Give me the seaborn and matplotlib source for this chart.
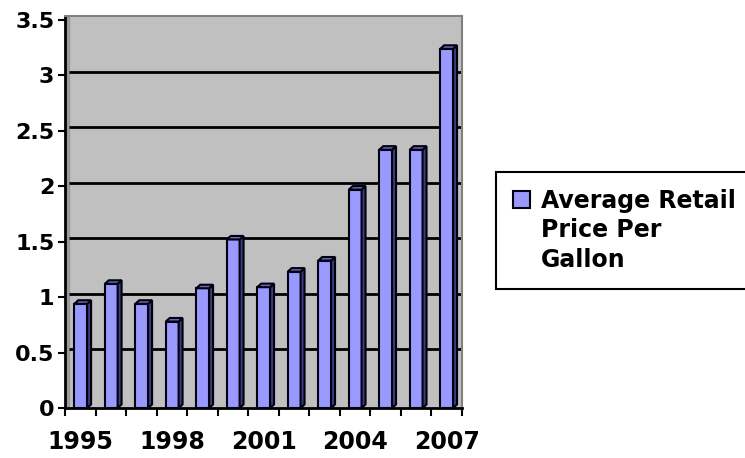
import matplotlib
matplotlib.use("Agg")
import numpy as np
import pandas as pd
import seaborn as sns
import matplotlib.pyplot as plt
from matplotlib.patches import Polygon, Patch

# data
years = ["1995", "1996", "1997", "1998", "1999", "2000", "2001",
         "2002", "2003", "2004", "2005", "2006", "2007"]
prices = [0.94, 1.12, 0.94, 0.78, 1.08, 1.52, 1.09,
          1.23, 1.33, 1.97, 2.33, 2.33, 3.24]
label_years = ["1995", "1998", "2001", "2004", "2007"]
y_ticks = [0, 0.5, 1, 1.5, 2, 2.5, 3, 3.5]
legend_lines = ["Average Retail", "Price Per", "Gallon"]

bar_color = "#9999FF"
side_color = "#3D3D7A"
top_color = "#6A6AB8"
edge_color = "#000010"
dx, dy = 0.13, 0.032   # fake 3d depth

sns.set_style("white")
plt.rcParams["font.family"] = ["DejaVu Sans"]
plt.rcParams["font.weight"] = "bold"
plt.rcParams["text.color"] = "black"
plt.rcParams["xtick.color"] = "black"
plt.rcParams["ytick.color"] = "black"

fig = plt.figure(figsize=(7.45, 4.58), dpi=100)
ax = fig.add_axes([0.0879, 0.1092, 0.620 - 0.0879, 0.965 - 0.1092])
ax.set_facecolor("#C0C0C0")

df = pd.DataFrame({"Year": years, "Price": prices})
sns.barplot(data=df, x="Year", y="Price", color=bar_color, saturation=1,
            width=0.42, edgecolor=edge_color, linewidth=1.5, ax=ax, zorder=3)

# side and top faces of each bar
for p in list(ax.patches):
    x0, w, h = p.get_x(), p.get_width(), p.get_height()
    side = [(x0 + w, 0), (x0 + w + dx, dy), (x0 + w + dx, h + dy), (x0 + w, h)]
    top = [(x0, h), (x0 + dx, h + dy), (x0 + w + dx, h + dy), (x0 + w, h)]
    ax.add_patch(Polygon(side, closed=True, facecolor=side_color,
                         edgecolor=edge_color, linewidth=1.5, zorder=3))
    ax.add_patch(Polygon(top, closed=True, facecolor=top_color,
                         edgecolor=edge_color, linewidth=1.5, zorder=3))

ax.set_xlim(-0.5, 12.5)
ax.set_ylim(0, 3.536)

# left wall and back-wall gridlines
ax.axvspan(-0.5, -0.5 + dx, color="#9A9A9A", zorder=1)
ax.hlines([v + dy for v in y_ticks[1:-1]], -0.5 + dx, 12.5,
          colors="black", linewidth=2, zorder=2)

ax.set_yticks(y_ticks)
ax.set_yticklabels([f"{v:g}" for v in y_ticks])
ax.tick_params(axis="y", direction="out", length=5, width=1.5, pad=3,
               labelsize=16, left=True, colors="black")

ax.set_xticks([years.index(y) for y in label_years])
ax.set_xticklabels(label_years)
ax.set_xticks(np.arange(-0.5, 13, 1), minor=True)
ax.tick_params(axis="x", which="major", length=0, pad=16, labelsize=17,
               colors="black")
ax.tick_params(axis="x", which="minor", direction="out", length=6,
               width=1.5, bottom=True, colors="black")

ax.set_xlabel("")
ax.set_ylabel("")
for s in ["left", "bottom"]:
    ax.spines[s].set_color("black")
    ax.spines[s].set_linewidth(2)
for s in ["top", "right"]:
    ax.spines[s].set_color("#808080")
    ax.spines[s].set_linewidth(1.5)

handles = [Patch(facecolor=bar_color, edgecolor=edge_color, linewidth=1.5),
           Patch(facecolor="none", edgecolor="none"),
           Patch(facecolor="none", edgecolor="none")]
leg = fig.legend(handles, legend_lines, loc="upper left",
                 bbox_to_anchor=(496 / 745, 1 - 172 / 458),
                 bbox_transform=fig.transFigure, frameon=True, fancybox=False,
                 edgecolor="black", framealpha=1,
                 prop={"weight": "bold", "size": 17},
                 handlelength=0.72, handleheight=0.72, handletextpad=0.5,
                 labelspacing=0.25, borderpad=0.7, borderaxespad=0)
leg.get_frame().set_linewidth(1.5)
for t in leg.get_texts():
    t.set_color("black")

fig.savefig("out.png", dpi=100)
